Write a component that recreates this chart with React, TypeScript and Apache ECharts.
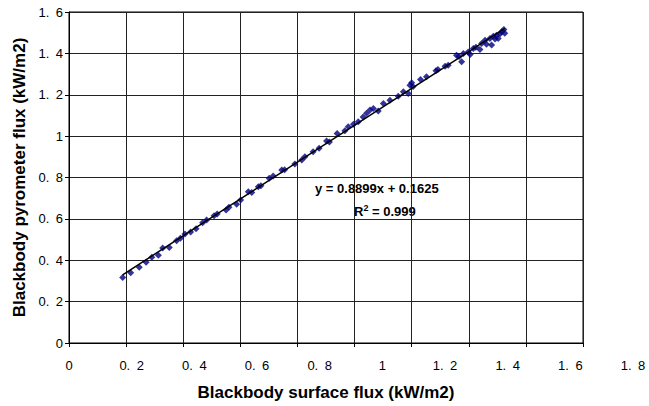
import React, { useEffect, useRef } from "react";
import * as echarts from "echarts";

const xTickLabels = ["0", "0.\u20022", "0.\u20024", "0.\u20026", "0.\u20028", "1", "1.\u20022", "1.\u20024", "1.\u20026", "1.\u20028"];
const yTickLabels = ["0", "0.\u20022", "0.\u20024", "0.\u20026", "0.\u20028", "1", "1.\u20022", "1.\u20024", "1.\u20026"];

const surfaceFlux = [
  0.188, 0.216, 0.246, 0.27, 0.29, 0.313, 0.328, 0.351, 0.377, 0.39, 0.406, 0.426, 0.445, 0.468, 0.482,
  0.508, 0.519, 0.55, 0.56, 0.587, 0.601, 0.628, 0.64, 0.663, 0.672, 0.701, 0.715, 0.745, 0.755, 0.791,
  0.815, 0.826, 0.855, 0.876, 0.902, 0.912, 0.939, 0.966, 0.978, 0.996, 1.013, 1.03, 1.042, 1.054, 1.066,
  1.083, 1.101, 1.124, 1.153, 1.171, 1.188, 1.194, 1.2, 1.205, 1.231, 1.252, 1.285, 1.292, 1.317, 1.328,
  1.357, 1.366, 1.375, 1.381, 1.398, 1.405, 1.416, 1.425, 1.439, 1.445, 1.457, 1.462, 1.474, 1.48, 1.486,
  1.492, 1.497, 1.503, 1.51, 1.515, 1.523, 1.526,
];
const pyrometerFlux = [
  0.317, 0.34, 0.366, 0.39, 0.414, 0.424, 0.459, 0.462, 0.494, 0.506, 0.527, 0.536, 0.552, 0.581, 0.594,
  0.615, 0.623, 0.643, 0.656, 0.671, 0.691, 0.731, 0.728, 0.755, 0.76, 0.796, 0.807, 0.836, 0.838, 0.865,
  0.884, 0.9, 0.924, 0.941, 0.977, 0.972, 1.013, 1.026, 1.045, 1.058, 1.069, 1.093, 1.11, 1.126, 1.134,
  1.122, 1.158, 1.174, 1.193, 1.214, 1.206, 1.246, 1.258, 1.24, 1.274, 1.287, 1.316, 1.322, 1.338, 1.343,
  1.391, 1.385, 1.359, 1.4, 1.407, 1.395, 1.424, 1.43, 1.419, 1.448, 1.464, 1.444, 1.472, 1.44, 1.483,
  1.47, 1.488, 1.472, 1.495, 1.504, 1.515, 1.497,
];
const slope = 0.8899;
const intercept = 0.1625;
const trendX = [0.188, 1.526];

const FONT = "Liberation Sans, Arial, sans-serif";

const tickText = (labels: string[], v: number) => labels[Math.round(v / 0.2)] ?? "";

export default function App() {
  const ref = useRef<HTMLDivElement>(null);
  useEffect(() => {
    if (!ref.current) return;
    const chart = echarts.init(ref.current, null, { renderer: "svg" });
    const points = surfaceFlux.map((x, i) => [x, pyrometerFlux[i]]);
    const trend = trendX.map((x) => [x, slope * x + intercept]);
    chart.setOption({
      animation: false,
      backgroundColor: "#fff",
      grid: [
        { left: 69, right: 66, top: 12, bottom: 63, show: true, borderColor: "#000", borderWidth: 1 },
        { left: 69, right: 16, top: 12, bottom: 63, show: false },
      ],
      xAxis: [
        {
          type: "value",
          gridIndex: 0,
          min: 0,
          max: 1.8,
          interval: 0.2,
          axisLine: { show: true, lineStyle: { color: "#000", width: 1 } },
          axisTick: { show: true, length: 4, lineStyle: { color: "#000" } },
          axisLabel: { show: false },
          splitLine: { show: true, lineStyle: { color: "#222", width: 1 } },
          name: "Blackbody surface flux (kW/m2)",
          nameLocation: "middle",
          nameGap: 41,
          nameTextStyle: { fontFamily: FONT, fontSize: 17, fontWeight: "bold", color: "#000" },
        },
        {
          type: "value",
          gridIndex: 1,
          min: 0,
          max: 1.8,
          interval: 0.2,
          axisLine: { show: false },
          axisTick: { show: false },
          splitLine: { show: false },
          axisLabel: {
            show: true,
            margin: 16,
            fontFamily: FONT,
            fontSize: 13,
            color: "#000",
            showMinLabel: true,
            showMaxLabel: true,
            formatter: (v: number) => tickText(xTickLabels, v),
          },
        },
      ],
      yAxis: [
        {
          type: "value",
          gridIndex: 0,
          min: 0,
          max: 1.6,
          interval: 0.2,
          axisLine: { show: true, lineStyle: { color: "#000", width: 1 } },
          axisTick: { show: true, length: 4, lineStyle: { color: "#000" } },
          splitLine: { show: true, lineStyle: { color: "#222", width: 1 } },
          axisLabel: {
            margin: 6,
            fontFamily: FONT,
            fontSize: 13,
            color: "#000",
            formatter: (v: number) => tickText(yTickLabels, v),
          },
          name: "Blackbody pyrometer flux (kW/m2)",
          nameLocation: "middle",
          nameGap: 38,
          nameTextStyle: { fontFamily: FONT, fontSize: 17, fontWeight: "bold", color: "#000" },
        },
        {
          type: "value",
          gridIndex: 1,
          min: 0,
          max: 1.6,
          show: false,
        },
      ],
      series: [
        {
          type: "scatter",
          xAxisIndex: 0,
          yAxisIndex: 0,
          data: points,
          symbol: "diamond",
          symbolSize: 7,
          itemStyle: { color: "#000080" },
          z: 3,
        },
        {
          type: "line",
          xAxisIndex: 0,
          yAxisIndex: 0,
          data: trend,
          showSymbol: false,
          symbol: "none",
          lineStyle: { color: "#000", width: 1.5 },
          z: 4,
        },
      ],
      graphic: [
        {
          type: "text",
          left: 315,
          top: 182,
          style: {
            text: "y = 0.8899x + 0.1625",
            font: `bold 13px ${FONT}`,
            fill: "#000",
          },
        },
        {
          type: "text",
          left: 354,
          top: 203,
          style: {
            text: "{r|R}{s|2}{r| = 0.999}",
            fill: "#000",
            rich: {
              r: { fontFamily: FONT, fontSize: 13, fontWeight: "bold", verticalAlign: "bottom" },
              s: { fontFamily: FONT, fontSize: 9, fontWeight: "bold", verticalAlign: "top", padding: [0, 0, 6, 0] },
            },
          },
        },
      ],
    });
    return () => chart.dispose();
  }, []);
  return <div ref={ref} style={{ position: "absolute", left: 0, top: 0, width: 649, height: 406 }} />;
}
